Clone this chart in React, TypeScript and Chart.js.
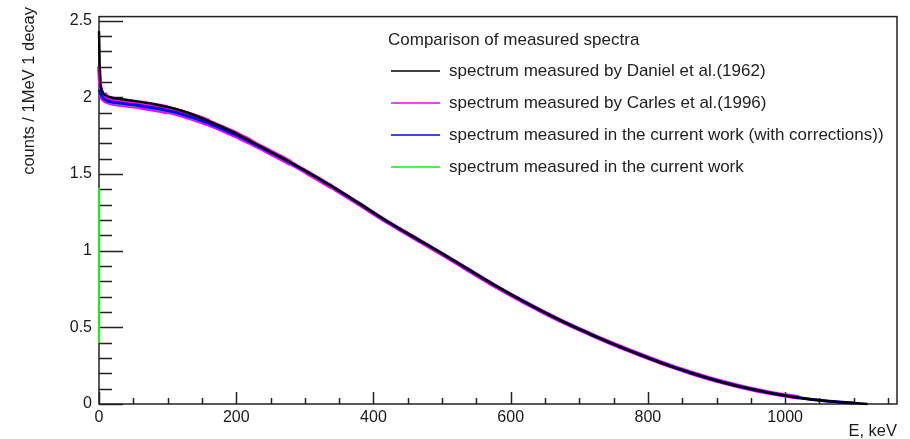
import React, { useEffect, useRef } from "react";
import { Chart, registerables } from "chart.js";

Chart.register(...registerables);

// ---------- data ----------
const ENERGY = [
  0, 2, 5, 10, 20, 30, 40, 60, 80, 100, 120, 140, 160, 180, 200, 220, 240, 260, 280, 300,
  340, 380, 420, 460, 500, 540, 580, 620, 660, 700, 740, 780, 820, 860, 900, 940, 980, 1020, 1060, 1100, 1120,
];

const DANIEL = [
  2.43, 2.08, 2.035, 2.01, 1.995, 1.99, 1.983, 1.97, 1.955, 1.936, 1.912, 1.882, 1.845, 1.805, 1.763, 1.716, 1.668, 1.621, 1.573, 1.522,
  1.417, 1.305, 1.19, 1.085, 0.98, 0.872, 0.765, 0.665, 0.572, 0.487, 0.408, 0.335, 0.267, 0.206, 0.152, 0.107, 0.07, 0.041, 0.02, 0.006, 0.0,
];

const CARLES = [
  2.2, 2.07, 2.02, 1.99, 1.975, 1.968, 1.962, 1.95, 1.935, 1.918, 1.895, 1.866, 1.833, 1.795, 1.755, 1.71, 1.663, 1.617, 1.569, 1.518,
  1.413, 1.301, 1.187, 1.082, 0.977, 0.869, 0.762, 0.663, 0.571, 0.487, 0.408, 0.336, 0.268, 0.207, 0.153, 0.108, 0.071, 0.042, null, null, null,
];

const CURRENT_CORR = [
  2.05, 2.03, 2.0, 1.98, 1.968, 1.962, 1.956, 1.945, 1.93, 1.913, 1.89, 1.862, 1.83, 1.792, 1.753, 1.709, 1.663, 1.618, 1.571, 1.521,
  1.417, 1.305, 1.19, 1.085, 0.981, 0.873, 0.766, 0.666, 0.573, 0.488, 0.409, 0.336, 0.268, 0.207, 0.153, 0.108, 0.071, 0.041, 0.02, 0.007, null,
];

const CURRENT = [
  null, null, 1.995, 1.975, 1.962, 1.956, 1.95, 1.94, 1.925, 1.908, 1.886, 1.858, 1.827, 1.79, 1.751, 1.708, 1.662, 1.617, 1.571, 1.521,
  1.418, 1.306, 1.191, 1.086, 0.982, 0.873, 0.766, 0.666, 0.572, 0.487, 0.408, 0.335, 0.267, 0.206, 0.152, 0.107, 0.07, 0.041, 0.02, 0.007, null,
];
// first bin edge of the "current work" spectrum, drawn at E = 0
const CURRENT_EDGE = [0.4, 1.41];

const LABELS = [
  "spectrum measured by Daniel et al.(1962)",
  "spectrum measured by Carles et al.(1996)",
  "spectrum measured in the current work (with corrections))",
  "spectrum measured in the current work",
];
const SERIES_COLORS = ["#000000", "#ff00ff", "#0000ff", "#00ff00"];
const LEGEND_TITLE = "Comparison of measured spectra";
const X_TITLE = "E, keV";
const Y_TITLE = "counts / 1MeV 1 decay";

const X_TICKS = [0, 200, 400, 600, 800, 1000];
const Y_TICKS = [0, 0.5, 1, 1.5, 2, 2.5];
const X_MAX = 1163;
const Y_MAX = 2.526;
const X_MINOR = 50;
const Y_MINOR = 0.1;

const FONT = "'Liberation Sans', Arial, Helvetica, sans-serif";

function toPoints(values: (number | null)[]) {
  return ENERGY.map((e, i) => ({ x: e, y: values[i] })).filter((p) => p.y !== null);
}

const rootFrame = {
  id: "rootFrame",
  beforeDatasetsDraw(chart: any) {
    const { ctx, chartArea, scales } = chart;
    const { left, right, top, bottom } = chartArea;
    const x = scales.x;
    const y = scales.y;
    ctx.save();
    ctx.strokeStyle = "#222";
    ctx.lineWidth = 1.5;
    ctx.strokeRect(left, top, right - left, bottom - top);
    ctx.beginPath();
    for (let i = 0; i * X_MINOR <= X_MAX; i++) {
      const v = i * X_MINOR;
      const px = Math.round(x.getPixelForValue(v)) + 0.5;
      const len = i % 4 === 0 ? 12 : 6;
      ctx.moveTo(px, bottom);
      ctx.lineTo(px, bottom - len);
    }
    for (let i = 0; i * Y_MINOR <= Y_MAX + 1e-9; i++) {
      const v = i * Y_MINOR;
      const py = Math.round(y.getPixelForValue(v)) + 0.5;
      const major = i % 5 === 0;
      ctx.moveTo(left, py);
      ctx.lineTo(left + (major ? 24 : 13), py);
    }
    ctx.stroke();
    ctx.restore();
  },
  afterDraw(chart: any) {
    const { ctx, chartArea } = chart;
    ctx.save();
    // axis titles (ROOT style: at the end of each axis)
    ctx.fillStyle = "#1a1a1a";
    ctx.font = `16.5px ${FONT}`;
    ctx.textBaseline = "alphabetic";
    ctx.textAlign = "right";
    ctx.fillText(X_TITLE, chartArea.right, 436);
    ctx.save();
    ctx.translate(34, 7);
    ctx.rotate(-Math.PI / 2);
    ctx.textAlign = "right";
    ctx.fillText(Y_TITLE, 0, 0);
    ctx.restore();

    // legend
    ctx.font = `17px ${FONT}`;
    ctx.fillStyle = "#222";
    ctx.textBaseline = "middle";
    ctx.textAlign = "left";
    ctx.fillText(LEGEND_TITLE, 388, 40);
    LABELS.forEach((label, i) => {
      const yy = 71 + i * 32;
      ctx.strokeStyle = SERIES_COLORS[i];
      ctx.lineWidth = 1.4;
      ctx.beginPath();
      ctx.moveTo(391, yy);
      ctx.lineTo(440, yy);
      ctx.stroke();
      ctx.fillStyle = "#222";
      ctx.fillText(label, 449, yy);
    });
    ctx.restore();
  },
};

export default function App() {
  const ref = useRef<HTMLCanvasElement | null>(null);

  useEffect(() => {
    if (!ref.current) return;
    const magentaWidth = (c: any) => {
      const e = c.p0.parsed.x;
      if (e < 5) return 4;
      if (e < 100) return 9;
      if (e < 160) return 8;
      if (e < 220) return 7;
      if (e < 280) return 6;
      if (e < 340) return 5;
      return 4.5;
    };
    const chart = new Chart(ref.current, {
      type: "line",
      data: {
        datasets: [
          {
            label: LABELS[0],
            data: toPoints(DANIEL),
            borderColor: SERIES_COLORS[0],
            borderWidth: 2.5,
            order: 0,
            clip: 4,
          },
          {
            label: LABELS[1],
            data: toPoints(CARLES),
            borderColor: SERIES_COLORS[1],
            borderWidth: 5,
            order: 4,
            clip: 4,
            segment: { borderWidth: magentaWidth },
          },
          {
            label: LABELS[2],
            data: toPoints(CURRENT_CORR),
            borderColor: SERIES_COLORS[2],
            borderWidth: 3,
            order: 1,
            clip: 4,
          },
          {
            label: LABELS[3],
            data: toPoints(CURRENT),
            borderColor: SERIES_COLORS[3],
            borderWidth: 2,
            order: 2,
            clip: 4,
          },
          {
            label: "",
            data: CURRENT_EDGE.map((v) => ({ x: 0, y: v })),
            borderColor: SERIES_COLORS[3],
            borderWidth: 2,
            tension: 0,
            order: 3,
            clip: 4,
          },
        ] as any,
      },
      options: {
        animation: false,
        responsive: false,
        parsing: false as any,
        elements: {
          point: { radius: 0, hoverRadius: 0 },
          line: { tension: 0.25, fill: false },
        },
        layout: { padding: { top: 13, right: 13, left: 0, bottom: 0 } },
        plugins: {
          legend: { display: false },
          tooltip: { enabled: false },
        },
        scales: {
          x: {
            type: "linear",
            min: 0,
            max: X_MAX,
            grid: { display: false, drawTicks: false },
            border: { display: false },
            afterBuildTicks: (s: any) => {
              s.ticks = X_TICKS.map((v) => ({ value: v }));
            },
            afterFit: (s: any) => {
              s.height = 35;
            },
            ticks: {
              padding: 4,
              maxRotation: 0,
              autoSkip: false,
              color: "#1a1a1a",
              font: { family: FONT, size: 16 },
              callback: (v: any) => String(v),
            },
          },
          y: {
            type: "linear",
            min: 0,
            max: Y_MAX,
            grid: { display: false, drawTicks: false },
            border: { display: false },
            afterBuildTicks: (s: any) => {
              s.ticks = Y_TICKS.map((v) => ({ value: v }));
            },
            afterFit: (s: any) => {
              s.width = 99;
            },
            ticks: {
              padding: 7,
              autoSkip: false,
              color: "#1a1a1a",
              font: { family: FONT, size: 16 },
              callback: (v: any) => String(v),
            },
          },
        },
      } as any,
      plugins: [rootFrame],
    });
    return () => chart.destroy();
  }, []);

  return (
    <div style={{ position: "fixed", left: 0, top: 0, width: 910, height: 439, background: "#fff" }}>
      <canvas ref={ref} width={910} height={439} style={{ display: "block" }} />
    </div>
  );
}
